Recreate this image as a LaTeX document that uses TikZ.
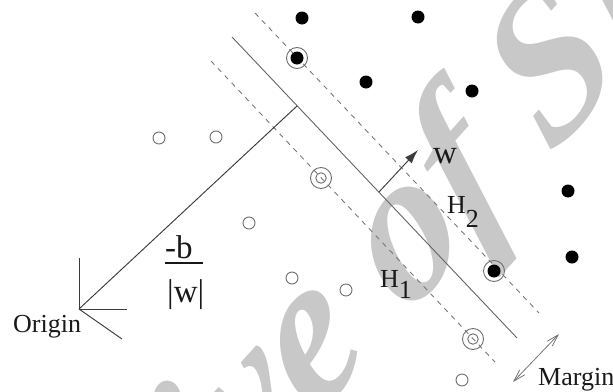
\documentclass[tikz,border=0pt]{standalone}
\usepackage{fontspec}
\setmainfont{Liberation Serif}
\usetikzlibrary{arrows.meta}
\definecolor{wmgray}{RGB}{200,200,200}
\definecolor{linegray}{RGB}{100,100,100}
\definecolor{dashgray}{RGB}{120,120,120}
\definecolor{ptgray}{RGB}{110,110,110}
\definecolor{ink}{RGB}{25,25,25}
\begin{document}
\begin{tikzpicture}[x=1pt,y=-1pt,
  posdot/.style={circle, fill=black, minimum size=13pt, inner sep=0pt},
  negdot/.style={circle, draw=ptgray, line width=0.9pt, minimum size=12pt, inner sep=0pt},
  negin/.style={circle, draw=ptgray, line width=0.9pt, minimum size=10.5pt, inner sep=0pt},
  svring/.style={circle, draw=ptgray, line width=0.9pt, minimum size=21pt, inner sep=0pt},
  hyper/.style={draw=linegray, line width=0.9pt},
  marginline/.style={draw=dashgray, line width=0.9pt, dash pattern=on 5pt off 5pt},
  lbl/.style={font=\fontsize{26}{30}\selectfont, text=ink, inner sep=0pt, anchor=base west},
  biglbl/.style={font=\fontsize{33}{38}\selectfont, text=ink, inner sep=0pt, anchor=base west},
  axisline/.style={draw=ink!85, line width=0.95pt}
]
\useasboundingbox (0,0) rectangle (613,391);
% watermark
\begin{scope}
\clip (0,0) rectangle (613,391);
\node[rotate=48, xslant=0.2, anchor=base west, inner sep=0pt, text=wmgray,
  font=\fontsize{200}{210}\selectfont\bfseries\itshape] (wm) at (406,318) {\llap{Archive }of SID};
\end{scope}
% hyperplanes
\coordinate (s1) at (232,37);  \coordinate (s2) at (517,338);
\coordinate (u1) at (255,13);  \coordinate (u2) at (539,313);
\coordinate (l1) at (211,61);  \coordinate (l2) at (495,362);
\draw[hyper] (s1) -- (s2);
\draw[marginline] (u1) -- (u2);
\draw[marginline] (l1) -- (l2);
% origin and normal
\coordinate (O) at (79,309);
\coordinate (foot) at (297,106);
\coordinate (ax1) at (79,258);
\coordinate (ax2) at (127,309);
\coordinate (ax3) at (122,339);
\draw[axisline] (O) -- (ax1);
\draw[axisline] (O) -- (ax2);
\draw[axisline] (O) -- (ax3);
\draw[axisline] (O) -- (foot);
\coordinate (wstart) at (379,192);
\coordinate (wtip) at (418,150);
\draw[axisline, -{Latex[length=14pt,width=9pt]}] (wstart) -- (wtip);
% margin arrow
\coordinate (m1) at (513,382);
\coordinate (m2) at (559,334);
\draw[draw=ptgray, line width=0.75pt, {Straight Barb[length=12pt,width=7pt]}-{Straight Barb[length=12pt,width=7pt]}] (m1) -- (m2);
% positive points
\node[posdot] (p1) at (302,18) {};
\node[posdot] (p2) at (418,17) {};
\node[posdot] (p3) at (366,82) {};
\node[posdot] (p4) at (472,91) {};
\node[posdot] (p5) at (568,191) {};
\node[posdot] (p6) at (572,257) {};
\node[posdot] (sv1) at (297,58) {};
\node[svring] (sv1r) at (sv1) {};
\node[posdot] (sv2) at (494,271) {};
\node[svring] (sv2r) at (sv2) {};
% negative points
\node[negdot] (n1) at (159,138) {};
\node[negdot] (n2) at (216,137) {};
\node[negdot] (n3) at (249,223) {};
\node[negdot] (n4) at (292,278) {};
\node[negdot] (n5) at (346,290) {};
\node[negdot] (n6) at (462,380) {};
\node[negin] (sv3) at (321,178) {};
\node[svring] (sv3r) at (sv3) {};
\node[negin] (sv4) at (473,339) {};
\node[svring] (sv4r) at (sv4) {};
% labels
\node[lbl] (origin) at (13,332) {Origin};
\node[lbl] (margin) at (538,385) {Margin};
\node[lbl] (h1) at (380,287) {H\raisebox{-11pt}{1}};
\node[lbl] (h2) at (447,213) {H\raisebox{-14pt}{2}};
\node[biglbl] (wl) at (433,163) {w};
\node[biglbl] (num) at (165,258) {-b};
\node[biglbl] (den) at (167,302) {|w|};
\coordinate (bar1) at (165,263);
\coordinate (bar2) at (203,263);
\draw[draw=ink, line width=1.1pt] (bar1) -- (bar2);
\end{tikzpicture}
\end{document}
